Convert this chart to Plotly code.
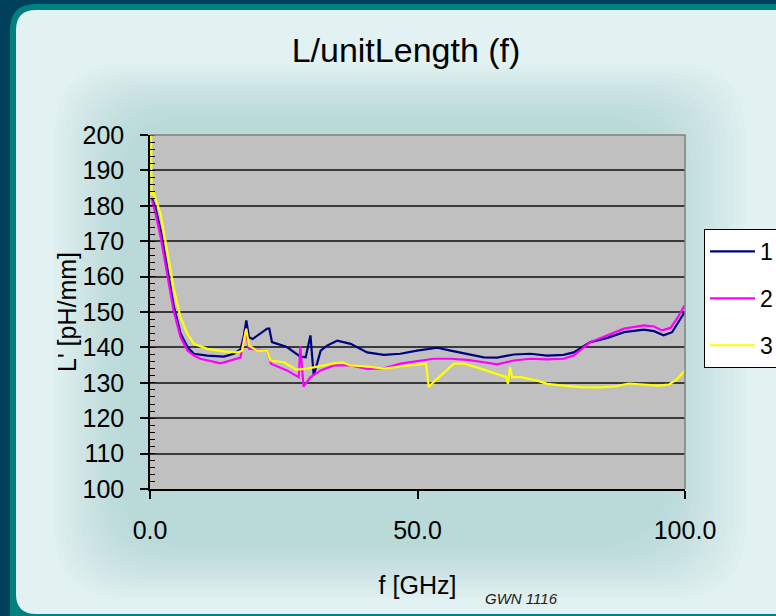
import plotly.graph_objects as go

# ---------------- data ----------------
f1 = [0.4, 1.0, 2.0, 3.2, 4.4, 5.7, 7.0, 8.2, 10.7, 13.8, 15.7, 16.9, 17.5, 18.0, 18.5, 19.2,
      21.9, 22.3, 22.8, 25.6, 28.1, 29.1, 29.99, 30.6, 31.9, 33.1, 35.0, 37.5, 40.6, 43.7,
      46.8, 49.9, 53.7, 56.2, 59.3, 62.4, 64.9, 68.0, 71.1, 74.2, 77.3, 79.2, 82.3, 85.5,
      88.6, 92.3, 94.2, 96.0, 97.6, 99.9]
v1 = [182.0, 179.5, 173.0, 163.0, 152.0, 144.0, 140.1, 138.2, 137.7, 137.4, 138.2, 139.4, 142.9, 147.6, 142.9, 142.4,
      145.3, 145.3, 141.5, 140.1, 137.4, 137.2, 143.4, 132.1, 139.1, 140.5, 141.9, 141.0, 138.6, 137.9,
      138.2, 139.1, 139.9, 139.1, 138.2, 137.2, 137.1, 138.0, 138.2, 137.7, 137.9, 138.6, 141.5, 142.7,
      144.3, 145.0, 144.6, 143.4, 144.3, 149.9]

f2 = [0.4, 1.0, 2.0, 3.2, 4.4, 5.7, 7.0, 8.2, 9.4, 13.2, 16.9, 17.9, 18.5, 21.9, 22.6, 25.6,
      27.8, 28.1, 28.7, 30.0, 31.9, 34.4, 37.5, 40.6, 43.7, 46.8, 49.9, 53.0, 56.2, 59.3,
      62.4, 64.9, 68.0, 71.1, 74.2, 77.3, 79.2, 82.3, 85.5, 88.6, 92.3, 94.2, 95.7, 97.3,
      98.5, 99.9]
v2 = [181.5, 178.0, 171.1, 160.8, 150.4, 142.9, 139.1, 137.7, 136.8, 135.5, 137.1, 144.8, 139.6, 139.1, 135.4, 133.5,
      131.6, 140.3, 128.9, 131.6, 133.5, 134.9, 134.9, 133.9, 134.1, 135.4, 136.1, 136.8, 136.8, 136.5,
      135.8, 135.2, 136.3, 136.8, 136.6, 136.8, 137.7, 141.5, 143.4, 145.3, 146.2, 145.9, 144.8, 145.5,
      148.1, 151.8]

f3 = [0.2, 0.3, 0.6, 1.0, 2.0, 3.2, 4.4, 5.7, 7.0, 8.2, 10.7, 13.8, 16.3, 17.2, 18.0, 18.5,
      20.0, 21.9, 22.5, 25.0, 27.4, 29.4, 31.2, 34.4, 35.9, 37.5, 40.6, 43.7, 46.8, 49.9,
      51.6, 52.1, 53.0, 56.8, 58.7, 61.8, 64.9, 66.6, 66.9, 67.3, 67.7, 69.3, 72.4, 74.2,
      77.3, 80.5, 84.0, 87.0, 89.5, 92.0, 95.0, 97.0, 98.5, 100.0]
v3 = [200.0, 183.0, 184.0, 182.0, 177.7, 167.4, 157.0, 148.5, 143.8, 141.0, 139.6, 138.9, 138.6, 139.0, 145.3, 140.5,
      139.1, 139.1, 136.3, 135.8, 133.7, 134.0, 134.6, 135.5, 135.8, 134.9, 134.6, 134.0, 134.6, 135.2,
      135.4, 128.8, 130.2, 135.4, 135.4, 134.0, 132.5, 131.6, 129.7, 134.4, 131.6, 131.6, 130.6, 129.7,
      129.2, 128.8, 128.7, 129.0, 129.8, 129.6, 129.2, 129.5, 131.0, 133.5]

series_names = ["1", "2", "3"]
series_colors = ["#000080", "#ff00ff", "#ffff00"]

title_text = "L/unitLength (f)"
x_title = "f [GHz]"
y_title = "L' [pH/mm]"
note_text = "GWN 1116"

# ---------------- geometry helpers ----------------
W, H = 776, 616
ML, MR, MT, MB = 150, 91, 135, 127
PW, PH = W - ML - MR, H - MT - MB


def P(px, py):
    return ((px - ML) / PW, (H - MB - py) / PH)


def rrect(x0, y0, x1, y1, r):
    pts = []
    def pt(cmd, *xy):
        s = cmd
        for i in range(0, len(xy), 2):
            a, b = P(xy[i], xy[i + 1])
            s += f"{a:.5f},{b:.5f} "
        pts.append(s)
    pt("M", x0 + r, y0)
    pt("L", x1 - r, y0)
    pt("Q", x1, y0, x1, y0 + r)
    pt("L", x1, y1 - r)
    pt("Q", x1, y1, x1 - r, y1)
    pt("L", x0 + r, y1)
    pt("Q", x0, y1, x0, y1 - r)
    pt("L", x0, y0 + r)
    pt("Q", x0, y0, x0 + r, y0)
    return "".join(pts) + "Z"


shapes = []
# teal frame and light panel
shapes.append(dict(type="path", xref="paper", yref="paper", layer="below",
                   path=rrect(10, 4, 820, 640, 26), fillcolor="#008080", line=dict(width=0)))
shapes.append(dict(type="path", xref="paper", yref="paper", layer="below",
                   path=rrect(16, 10, 820, 614, 20), fillcolor="#e2f1f1", line=dict(width=0)))
# soft glow around the plot
for k in range(14):
    shapes.append(dict(type="path", xref="paper", yref="paper", layer="below",
                       path=rrect(55 + 5 * k, 65 + 4 * k, 745 - 6 * k, 598 - 4 * k, 70),
                       fillcolor="#7fb0b0", opacity=0.03, line=dict(width=0)))
# plot area background
shapes.append(dict(type="rect", xref="paper", yref="paper", layer="below",
                   x0=0, y0=0, x1=1, y1=1, fillcolor="#c0c0c0", line=dict(width=0)))
# gray plot border on top and right
shapes.append(dict(type="path", xref="paper", yref="paper", layer="above",
                   path="M0,1 L1,1 L1,0", line=dict(color="#808080", width=1.5)))

fig = go.Figure()
for i, (fx, vy) in enumerate([(f1, v1), (f2, v2), (f3, v3)]):
    fig.add_trace(go.Scatter(x=fx, y=vy, mode="lines", name=series_names[i],
                             legendgroup=series_names[i],
                             line=dict(color=series_colors[i], width=2.2)))

font_main = "Liberation Sans, Arial, sans-serif"

fig.update_layout(
    width=W, height=H,
    margin=dict(l=ML, r=MR, t=MT, b=MB, autoexpand=False),
    paper_bgcolor="#00405a",
    plot_bgcolor="#c0c0c0",
    font=dict(family=font_main, color="black"),
    title=dict(text=title_text, x=406 / W, y=1 - 50 / H, xref="container", yref="container",
               xanchor="center", yanchor="middle", font=dict(size=34, color="black")),
    shapes=shapes,
    showlegend=True,
    legend=dict(x=(704 - ML) / PW, y=(H - MB - 229) / PH, xanchor="left", yanchor="top",
                bgcolor="white", bordercolor="black", borderwidth=1,
                font=dict(size=23, color="black"), tracegroupgap=14,
                traceorder="grouped", itemwidth=45),
    xaxis=dict(range=[0, 100], tickvals=[0, 50, 100], tickformat=".1f",
               showgrid=False, zeroline=False, showline=True, linecolor="black", linewidth=1.5,
               ticks="outside", ticklen=8, tickcolor="black", tickwidth=1.5,
               ticklabelstandoff=10,
               tickfont=dict(size=25, color="black"),
               title=dict(text=x_title, font=dict(size=25, color="black"), standoff=34)),
    yaxis=dict(range=[100, 200], dtick=10, tick0=100,
               showgrid=True, gridcolor="#3a3a3a", gridwidth=1.6, zeroline=False,
               showline=True, linecolor="black", linewidth=1.5,
               ticks="outside", ticklen=8, tickcolor="black", tickwidth=1.5,
               ticklabelstandoff=11,
               tickfont=dict(size=25, color="black"),
               minor=dict(ticks="inside", dtick=2, ticklen=5, tickcolor="black", tickwidth=1,
                          showgrid=False)),
    yaxis2=dict(range=[100, 200], dtick=10, tick0=100, overlaying="y", side="left",
                showgrid=False, zeroline=False, showline=False, showticklabels=False,
                ticks="inside", ticklen=8, tickcolor="black", tickwidth=1.5),
    annotations=[
        dict(text=y_title, xref="paper", yref="paper", x=P(67, 312)[0], y=P(67, 312)[1],
             xanchor="center", yanchor="middle", textangle=-90, showarrow=False,
             font=dict(size=25, color="black")),
        dict(text="<i>" + note_text + "</i>", xref="paper", yref="paper",
             x=P(521, 598)[0], y=P(521, 598)[1], xanchor="center", yanchor="middle",
             showarrow=False, font=dict(size=15, color="#202020")),
    ],
)

fig.write_html("out.html")
